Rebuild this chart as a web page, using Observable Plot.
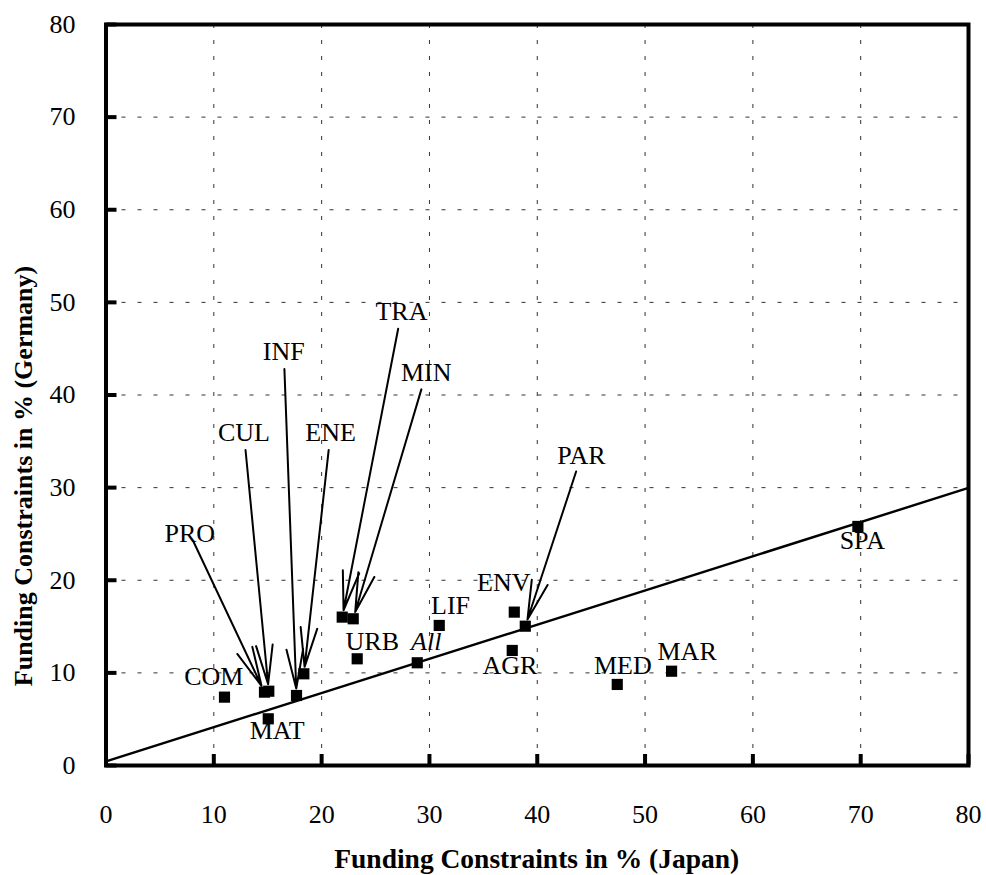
<!DOCTYPE html>
<html>
<head>
<meta charset="utf-8">
<script src="https://cdn.jsdelivr.net/npm/d3@7"></script>
<script src="https://cdn.jsdelivr.net/npm/@observablehq/plot@0.6"></script>
<style>
  html, body { margin: 0; padding: 0; background: #fff; }
  #chart svg { display: block; }
</style>
</head>
<body>
<div id="chart"></div>
<script>
// Funding constraints by research field, Japan vs Germany (in %)
const sectors = ["COM", "PRO", "CUL", "MAT", "INF", "ENE", "TRA", "MIN", "URB", "All", "LIF", "AGR", "ENV", "PAR", "MED", "MAR", "SPA"];
const japan   = [10.99, 14.70, 15.10, 15.05, 17.67, 18.35, 21.91, 22.93, 23.30, 28.87, 30.91, 37.68, 37.87, 38.89, 47.42, 52.46, 69.74];
const germany = [7.38, 7.92, 8.02, 5.04, 7.56, 9.90, 16.02, 15.84, 11.52, 11.09, 15.12, 12.42, 16.56, 15.04, 8.75, 10.18, 25.81];

// Label anchors in axis units; fields with an arrow get a call-out line
const labelJapan   = [10.0, 7.77, 12.79, 15.88, 16.49, 20.83, 27.4, 29.7, 24.7, 29.7, 31.96, 37.46, 36.9, 44.1, 47.94, 53.9, 70.15];
const labelGermany = [9.54, 25.02, 35.89, 3.78, 44.63, 35.89, 48.95, 42.37, 13.32, 13.32, 17.28, 10.80, 19.69, 33.48, 10.80, 12.24, 24.30];
const calloutSectors = ["PRO", "CUL", "INF", "ENE", "TRA", "MIN", "PAR"];

// Trend line end points
const trendX = [0, 80];
const trendY = [0.45, 29.97];

const ticks = [0, 10, 20, 30, 40, 50, 60, 70, 80];
const xTitle = "Funding Constraints in % (Japan)";
const yTitle = "Funding Constraints in % (Germany)";

const rows = sectors.map((s, i) => ({
  sector: s,
  japan: japan[i],
  germany: germany[i],
  lx: labelJapan[i],
  ly: labelGermany[i],
  callout: calloutSectors.includes(s)
}));
const trend = trendX.map((x, i) => ({x, y: trendY[i]}));

const W = 986, H = 875;
const mL = 105.5, mR = 18, mT = 24, mB = 110;
const plotW = W - mL - mR, plotH = H - mT - mB;
const serif = "'Liberation Serif', 'Times New Roman', Times, serif";

const chart = Plot.plot({
  width: W,
  height: H,
  marginLeft: mL,
  marginRight: mR,
  marginTop: mT,
  marginBottom: mB,
  x: {domain: [0, 80], ticks},
  y: {domain: [0, 80], ticks},
  style: {fontFamily: serif, fontSize: "26px", color: "#000", background: "#fff"},
  marks: [
    Plot.gridX(ticks.slice(1, -1), {stroke: "#333", strokeOpacity: 1, strokeWidth: 1, strokeDasharray: "4,12"}),
    Plot.gridY(ticks.slice(1, -1), {stroke: "#333", strokeOpacity: 1, strokeWidth: 1, strokeDasharray: "4,12"}),
    // inward tick marks on the bottom and left edges
    Plot.tickX(ticks, {x: d => d, insetTop: plotH - 11, stroke: "#000", strokeWidth: 4}),
    Plot.tickY(ticks, {y: d => d, insetRight: plotW - 11, stroke: "#000", strokeWidth: 4}),
    Plot.line(trend, {x: "x", y: "y", stroke: "#000", strokeWidth: 2.4}),
    Plot.arrow(rows.filter(d => d.callout && d.sector === "PRO"), {
      x1: "lx", y1: "ly", x2: "japan", y2: "germany",
      insetStart: 8, insetEnd: 7, headAngle: 24, headLength: 30, stroke: "#000", strokeWidth: 2
    }),
    Plot.arrow(rows.filter(d => d.callout && d.sector !== "PRO"), {
      x1: "lx", y1: "ly", x2: "japan", y2: "germany",
      insetStart: 17, insetEnd: 7, headAngle: 24, headLength: 30, stroke: "#000", strokeWidth: 2
    }),
    Plot.dot(rows, {x: "japan", y: "germany", symbol: "square", r: 6.3, fill: "#000", stroke: null}),
    Plot.text(rows.filter(d => d.sector !== "All"), {
      x: "lx", y: "ly", text: "sector", fontSize: 26, fill: "#000", lineAnchor: "middle"
    }),
    Plot.text(rows.filter(d => d.sector === "All"), {
      x: "lx", y: "ly", text: "sector", fontSize: 26, fontStyle: "italic", fill: "#000", lineAnchor: "middle"
    }),
    Plot.frame({stroke: "#000", strokeWidth: 4}),
    Plot.axisX(ticks, {tickSize: 0, tickPadding: 39, fontSize: 26, label: null}),
    Plot.axisY(ticks, {tickSize: 0, tickPadding: 30.5, fontSize: 26, label: null})
  ]
});

// Axis titles
const svg = d3.select(chart);
svg.append("text")
  .attr("x", mL + plotW / 2)
  .attr("y", 868)
  .attr("text-anchor", "middle")
  .attr("font-family", serif)
  .attr("font-size", 27.5)
  .attr("font-weight", "bold")
  .attr("fill", "#000")
  .text(xTitle);
svg.append("text")
  .attr("transform", "translate(32,476) rotate(-90)")
  .attr("text-anchor", "middle")
  .attr("font-family", serif)
  .attr("font-size", 26)
  .attr("font-weight", "bold")
  .attr("fill", "#000")
  .text(yTitle);

document.getElementById("chart").append(chart);
</script>
</body>
</html>
